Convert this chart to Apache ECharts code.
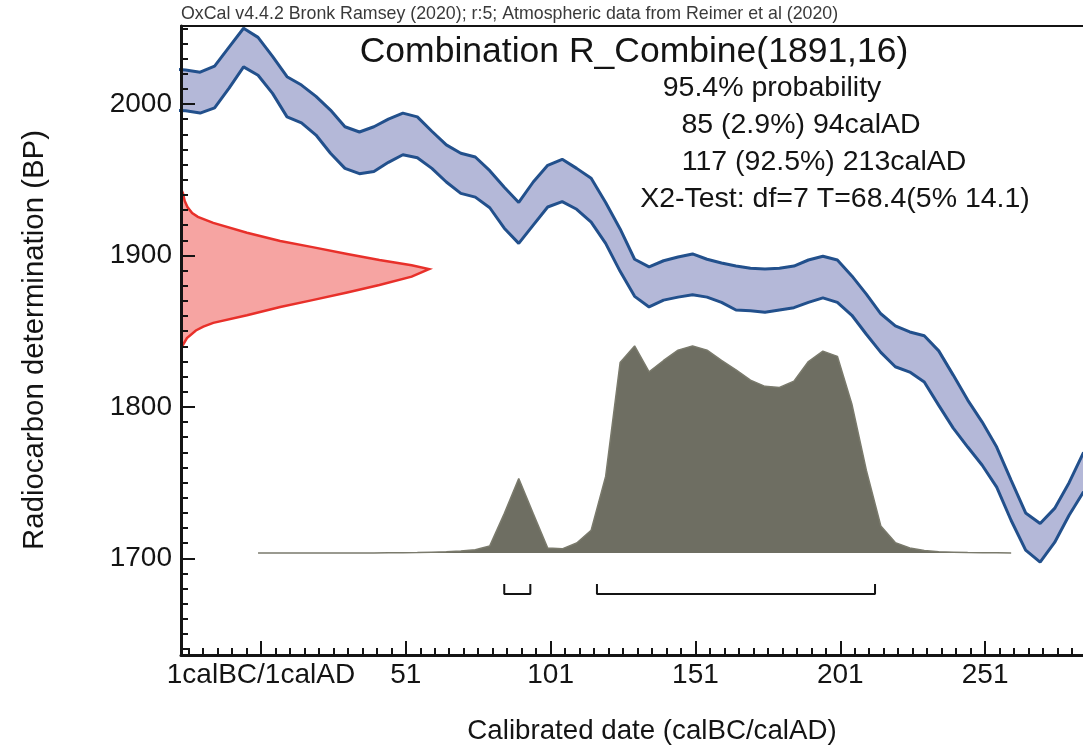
<!DOCTYPE html>
<html>
<head>
<meta charset="utf-8">
<title>Combination R_Combine(1891,16)</title>
<script src="https://cdn.jsdelivr.net/npm/echarts@6/dist/echarts.min.js"></script>
<style>
    body { margin: 0; background: #ffffff; }
    #main { width: 1083px; height: 753px; }
</style>
</head>
<body>
<div id="main"></div>
<script>
// calibration curve (IntCal20), 1 sigma envelope, years in cal AD
var curveYears = [-30, -25, -20, -15, -10, -5, 0, 5, 10, 15, 20, 25, 30, 35, 40, 45, 50, 55, 60, 65,
    70, 75, 80, 85, 90, 95, 100, 105, 110, 115, 120, 125, 130, 135, 140, 145, 150, 155, 160, 165,
    170, 175, 180, 185, 190, 195, 200, 205, 210, 215, 220, 225, 230, 235, 240, 245, 250, 255, 260,
    265, 270, 275, 280, 285];
var curveUpper = [2023, 2022.5, 2021, 2025, 2037.5, 2050, 2044, 2031.5, 2018, 2012.5, 2005, 1996, 1985,
    1981.5, 1985, 1990, 1994, 1991.5, 1982, 1973, 1967.5, 1965, 1956, 1945, 1935, 1948.5, 1959.5,
    1963.5, 1957.5, 1951, 1935, 1917.5, 1897.5, 1892.5, 1896.5, 1899, 1901, 1897.5, 1895, 1893,
    1891.5, 1891, 1891.5, 1893, 1897, 1899.5, 1897, 1886.5, 1874.5, 1861.5, 1853.5, 1849.5, 1847,
    1837, 1821, 1804.5, 1790, 1773.5, 1751.5, 1730, 1723, 1733, 1750, 1770];
var curveLower = [1996, 1995.5, 1994, 1997.5, 2010.5, 2024.5, 2019, 2007, 1991.5, 1987.5, 1979.5, 1967.5,
    1957.5, 1954, 1955.5, 1961.5, 1966.5, 1964.5, 1957.5, 1948.5, 1941, 1938.5, 1931.5, 1918, 1908,
    1920, 1932, 1935.5, 1930.5, 1922, 1908, 1889.5, 1873, 1866, 1870.5, 1872.5, 1874, 1872.5, 1869,
    1864, 1863.5, 1862.5, 1864, 1865.5, 1869, 1872, 1869, 1860.5, 1848, 1836, 1826.5, 1823, 1816.5,
    1801, 1786, 1773.5, 1761.5, 1747, 1725, 1705.5, 1697.5, 1710.5, 1728.5, 1744];

// measured radiocarbon date R_Combine(1891,16), relative probability
var radioBP = [1944, 1941, 1936, 1932, 1928, 1925.5, 1921.5, 1915, 1909.5, 1905.5, 1901, 1897, 1893.5, 1891,
    1886, 1880.5, 1875.5, 1870.5, 1866, 1860.5, 1855.5, 1853, 1850.5, 1845.5, 1841, 1838];
var radioProb = [0, 0.008, 0.015, 0.026, 0.045, 0.068, 0.13, 0.266, 0.40, 0.53, 0.67, 0.80, 0.93, 1,
    0.93, 0.80, 0.67, 0.53, 0.40, 0.266, 0.13, 0.09, 0.06, 0.024, 0.008, 0];

// calibrated probability distribution
var calYears = [0, 5, 10, 15, 20, 25, 30, 35, 40, 45, 50, 55, 60, 65, 70, 75, 80, 85, 90, 95, 100,
    105, 110, 115, 120, 125, 130, 135, 140, 145, 150, 155, 160, 165, 170, 175, 180, 185, 190, 195,
    200, 205, 210, 215, 220, 225, 230, 235, 240, 245, 250, 255, 260];
var calProb = [0, 0, 0, 0, 0, 0, 0, 0, 0, 0.001, 0.001, 0.002, 0.004, 0.006, 0.01, 0.016, 0.034, 0.19,
    0.36, 0.19, 0.024, 0.02, 0.048, 0.11, 0.37, 0.92, 1.0, 0.875, 0.93, 0.98, 1.0, 0.98, 0.93, 0.885,
    0.835, 0.805, 0.80, 0.83, 0.925, 0.975, 0.95, 0.72, 0.40, 0.13, 0.05, 0.024, 0.012, 0.006, 0.004,
    0.002, 0.001, 0.001, 0];

// 95.4% ranges
var ranges = [[85, 94], [117, 213]];

var majorYears = [1, 51, 101, 151, 201, 251];
var majorBP = [1700, 1800, 1900, 2000];

var headerText = 'OxCal v4.4.2 Bronk Ramsey (2020); r:5; Atmospheric data from Reimer et al (2020)';
var titleText = 'Combination R_Combine(1891,16)';
var infoLines = ['95.4% probability', '85 (2.9%) 94calAD', '117 (92.5%) 213calAD',
    'X2-Test: df=7 T=68.4(5% 14.1)'];

var xMin = -26.6, xMax = 284.8;
var yMin = 1636.2, yMax = 2051.5;

var minorYears = [];
for (var t = -24; t <= xMax; t += 5) minorYears.push(t);
var minorBP = [];
for (var b = 1640; b <= yMax; b += 10) minorBP.push(b);

var font = '"Liberation Sans", Arial, sans-serif';
var ink = '#141414';

function pairs(xs, ys) {
    return xs.map(function (x, i) { return [x, ys[i]]; });
}

var myChart = echarts.init(document.getElementById('main'));

var option = {
    animation: false,
    backgroundColor: '#ffffff',
    grid: { left: 181, top: 26, right: 0, bottom: 98 },
    xAxis: [
        {
            type: 'value', position: 'bottom', min: xMin, max: xMax, z: 5,
            axisLine: { onZero: false, lineStyle: { color: ink, width: 3 } },
            axisTick: { inside: true, length: 14, customValues: majorYears, lineStyle: { color: ink, width: 2 } },
            axisLabel: {
                customValues: majorYears, margin: 6, fontSize: 28, color: ink, fontFamily: font,
                formatter: function (v) { return v === 1 ? '1calBC/1calAD' : String(v); }
            },
            splitLine: { show: false }
        },
        {
            type: 'value', position: 'bottom', min: xMin, max: xMax, z: 5,
            axisLine: { show: false, onZero: false },
            axisTick: { inside: true, length: 7, customValues: minorYears, lineStyle: { color: ink, width: 2 } },
            axisLabel: { show: false },
            splitLine: { show: false }
        },
        {
            type: 'value', position: 'top', min: xMin, max: xMax, z: 5,
            axisLine: { onZero: false, lineStyle: { color: ink, width: 2 } },
            axisTick: { show: false },
            axisLabel: { show: false },
            splitLine: { show: false }
        },
        // relative probability of the measurement, drawn sideways
        { type: 'value', position: 'bottom', min: 0, max: 3.637, show: false }
    ],
    yAxis: [
        {
            type: 'value', position: 'left', min: yMin, max: yMax, z: 5,
            axisLine: { onZero: false, lineStyle: { color: ink, width: 3 } },
            axisTick: { inside: true, length: 14, customValues: majorBP, lineStyle: { color: ink, width: 2 } },
            axisLabel: {
                customValues: majorBP, margin: 9, fontSize: 28, color: ink, fontFamily: font,
                formatter: function (v) { return String(v); }
            },
            splitLine: { show: false }
        },
        {
            type: 'value', position: 'left', min: yMin, max: yMax, z: 5,
            axisLine: { show: false, onZero: false },
            axisTick: { inside: true, length: 7, customValues: minorBP, lineStyle: { color: ink, width: 2 } },
            axisLabel: { show: false },
            splitLine: { show: false }
        },
        // calibrated probability
        { type: 'value', position: 'left', min: -0.493, max: 2.546, show: false }
    ],
    series: [
        {
            type: 'custom', name: 'band', xAxisIndex: 0, yAxisIndex: 0, clip: true, silent: true, z: 1,
            data: [[0]],
            renderItem: function (params, api) {
                var pts = [];
                for (var i = 0; i < curveYears.length; i++) pts.push(api.coord([curveYears[i], curveUpper[i]]));
                for (var j = curveYears.length - 1; j >= 0; j--) pts.push(api.coord([curveYears[j], curveLower[j]]));
                return { type: 'polygon', shape: { points: pts }, style: { fill: '#b4b8d8' } };
            }
        },
        {
            type: 'line', xAxisIndex: 0, yAxisIndex: 0, symbol: 'none', z: 2,
            data: pairs(curveYears, curveUpper),
            lineStyle: { color: '#22508c', width: 3 }
        },
        {
            type: 'line', xAxisIndex: 0, yAxisIndex: 0, symbol: 'none', z: 2,
            data: pairs(curveYears, curveLower),
            lineStyle: { color: '#22508c', width: 3 }
        },
        {
            type: 'line', xAxisIndex: 0, yAxisIndex: 2, symbol: 'none', z: 2,
            data: pairs(calYears, calProb),
            lineStyle: { color: '#7a7a6c', width: 1.5 },
            areaStyle: { color: '#6e6e62', opacity: 1 }
        },
        {
            type: 'custom', name: 'measurement', xAxisIndex: 3, yAxisIndex: 0, clip: true, silent: true, z: 3,
            data: [[0]],
            renderItem: function (params, api) {
                var pts = radioBP.map(function (bp, i) { return api.coord([radioProb[i], bp]); });
                return {
                    type: 'polygon', shape: { points: pts },
                    style: { fill: '#f6a4a2', stroke: '#e8302a', lineWidth: 2.5 }
                };
            }
        }
    ].concat(ranges.map(function (r) {
        return {
            type: 'line', xAxisIndex: 0, yAxisIndex: 2, symbol: 'none', z: 3,
            data: [[r[0], -0.15], [r[0], -0.198], [r[1], -0.198], [r[1], -0.15]],
            lineStyle: { color: ink, width: 2 }
        };
    })),
    graphic: [
        { type: 'text', x: 181, y: 14, style: { text: headerText, fontSize: 17.8, fontFamily: font, fill: '#3a3a3a', textVerticalAlign: 'middle' } },
        { type: 'text', x: 634, y: 52, style: { text: titleText, fontSize: 35.5, fontFamily: font, fill: ink, textAlign: 'center', textVerticalAlign: 'middle' } },
        { type: 'text', x: 772, y: 88, style: { text: infoLines[0], fontSize: 28.5, fontFamily: font, fill: ink, textAlign: 'center', textVerticalAlign: 'middle' } },
        { type: 'text', x: 801, y: 125, style: { text: infoLines[1], fontSize: 28.5, fontFamily: font, fill: ink, textAlign: 'center', textVerticalAlign: 'middle' } },
        { type: 'text', x: 824, y: 162, style: { text: infoLines[2], fontSize: 28.5, fontFamily: font, fill: ink, textAlign: 'center', textVerticalAlign: 'middle' } },
        { type: 'text', x: 835, y: 199, style: { text: infoLines[3], fontSize: 28.5, fontFamily: font, fill: ink, textAlign: 'center', textVerticalAlign: 'middle' } },
        { type: 'text', x: 35, y: 340, rotation: Math.PI / 2, style: { text: 'Radiocarbon determination (BP)', fontSize: 29.4, fontFamily: font, fill: ink, textAlign: 'center', textVerticalAlign: 'middle' } },
        { type: 'text', x: 652, y: 731, style: { text: 'Calibrated date (calBC/calAD)', fontSize: 27.7, fontFamily: font, fill: ink, textAlign: 'center', textVerticalAlign: 'middle' } }
    ]
};

myChart.setOption(option);
</script>
</body>
</html>
